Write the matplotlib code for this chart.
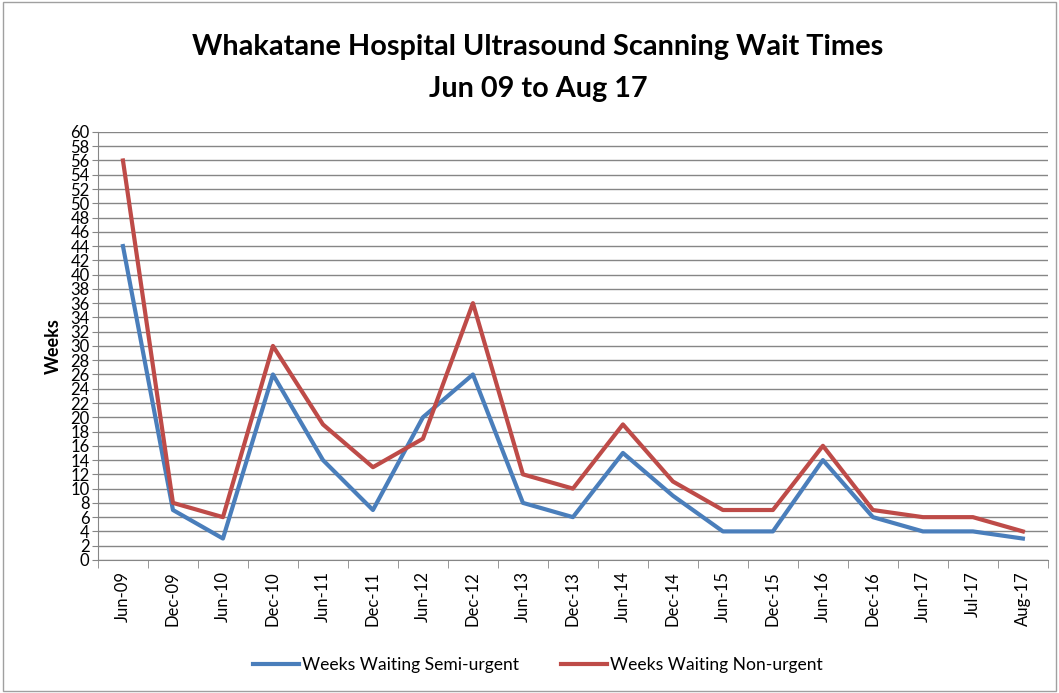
import matplotlib.pyplot as plt
import numpy as np

months = ["Jun-09", "Dec-09", "Jun-10", "Dec-10", "Jun-11", "Dec-11", "Jun-12",
          "Dec-12", "Jun-13", "Dec-13", "Jun-14", "Dec-14", "Jun-15", "Dec-15",
          "Jun-16", "Dec-16", "Jun-17", "Jul-17", "Aug-17"]
semi_urgent = [44, 7, 3, 26, 14, 7, 20, 26, 8, 6, 15, 9, 4, 4, 14, 6, 4, 4, 3]
non_urgent = [56, 8, 6, 30, 19, 13, 17, 36, 12, 10, 19, 11, 7, 7, 16, 7, 6, 6, 4]

plt.rcParams['font.family'] = ['Lato', 'DejaVu Sans']

fig = plt.figure(figsize=(10.59, 6.93), dpi=100)
ax = fig.add_axes([0.0925, 0.192, 0.897, 0.6176])

x = np.arange(len(months))
ax.plot(x, semi_urgent, color='#4A7EBB', lw=3, label='Weeks Waiting Semi-urgent')
ax.plot(x, non_urgent, color='#BE4B48', lw=3, label='Weeks Waiting Non-urgent')

ax.set_xlim(-0.5, len(months) - 0.5)
ax.set_ylim(0, 60)
ax.set_yticks(range(0, 61, 2))
ax.tick_params(axis='y', labelsize=12, length=4, color='#868686', pad=2)
ax.yaxis.grid(True, color='#868686', lw=1)
ax.set_axisbelow(True)

ax.set_xticks(x)
ax.set_xticklabels(months, rotation=90, fontsize=12)
ax.set_xticks(np.arange(-0.5, len(months), 1), minor=True)
ax.tick_params(axis='x', which='major', length=0, pad=8)
ax.tick_params(axis='x', which='minor', length=6, color='#868686')

for side in ['top', 'right']:
    ax.spines[side].set_visible(False)
for side in ['left', 'bottom']:
    ax.spines[side].set_color('#868686')

ax.set_ylabel('Weeks', fontsize=13, fontweight='bold', labelpad=6)

fig.text(0.508, 0.932, 'Whakatane Hospital Ultrasound Scanning Wait Times',
         ha='center', va='center', fontsize=20.8, fontweight='bold')
fig.text(0.508, 0.872, 'Jun 09 to Aug 17',
         ha='center', va='center', fontsize=20.8, fontweight='bold')

fig.legend(loc='center', bbox_to_anchor=(0.508, 0.04), ncol=2, frameon=False,
           fontsize=12.6, handlelength=2.6, columnspacing=2.4, handletextpad=0.2)

fig.patches.append(plt.Rectangle((0.003, 0.003), 0.994, 0.994, transform=fig.transFigure,
                                 fill=False, edgecolor='#a0a0a0', lw=1))

fig.savefig('out.png', dpi=100)
